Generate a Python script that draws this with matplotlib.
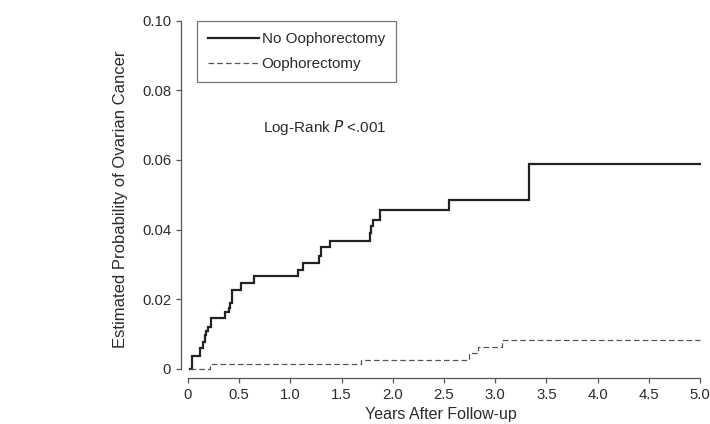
import numpy as np
import matplotlib
matplotlib.use("Agg")
import matplotlib.pyplot as plt

plt.rcParams["font.family"] = ["Liberation Sans", "DejaVu Sans"]

# Kaplan-Meier style cumulative incidence
no_ooph_t = [0.02, 0.04, 0.12, 0.15, 0.17, 0.18, 0.20, 0.23, 0.36, 0.40, 0.41, 0.43,
             0.52, 0.65, 1.08, 1.12, 1.28, 1.30, 1.39, 1.78, 1.79, 1.81, 1.875,
             2.55, 3.33, 5.00]
no_ooph_p = [0.0, 0.0037, 0.0059, 0.0078, 0.0097, 0.0110, 0.0120, 0.0146, 0.0164,
             0.0175, 0.0190, 0.0226, 0.0246, 0.0266, 0.0284, 0.0305, 0.0325, 0.0349,
             0.0367, 0.0389, 0.0410, 0.0429, 0.0456, 0.0484, 0.0589, 0.0589]
ooph_t = [0.02, 0.22, 1.69, 2.74, 2.83, 3.07, 5.00]
ooph_p = [0.0, 0.0013, 0.0026, 0.0045, 0.0064, 0.0083, 0.0083]

xticks = [0, 0.5, 1.0, 1.5, 2.0, 2.5, 3.0, 3.5, 4.0, 4.5, 5.0]
xtick_labels = ["0", "0.5", "1.0", "1.5", "2.0", "2.5", "3.0", "3.5", "4.0", "4.5", "5.0"]
yticks = [0, 0.02, 0.04, 0.06, 0.08, 0.10]
ytick_labels = ["0", "0.02", "0.04", "0.06", "0.08", "0.10"]

ink = "#2b2b2b"
axis_col = "#555555"

W, H = 710, 424
fig = plt.figure(figsize=(W / 100, H / 100), dpi=100)
ax = fig.add_axes([180.7 / W, (H - 378) / H, (701 - 180.7) / W, (378 - 20.7) / H])

ax.step(no_ooph_t, no_ooph_p, where="post", color="#222222", lw=1.6,
        solid_joinstyle="miter", label="No Oophorectomy")
ax.step(ooph_t, ooph_p, where="post", color="#555555", lw=0.9,
        linestyle=(0, (4.5, 2.5)), label="Oophorectomy")

ax.set_xlim(-0.07, 5.01)
ax.set_ylim(-0.0026, 0.1)
ax.spines["left"].set_bounds(0, 0.1)
ax.spines["bottom"].set_bounds(0, 5.0)
for s in ("top", "right"):
    ax.spines[s].set_visible(False)
for s in ("left", "bottom"):
    ax.spines[s].set_color(axis_col)
    ax.spines[s].set_linewidth(0.9)

ax.set_xticks(xticks)
ax.set_xticklabels(xtick_labels)
ax.set_yticks(yticks)
ax.set_yticklabels(ytick_labels)
ax.tick_params(direction="out", length=3.4, width=0.9, color=axis_col,
               labelcolor=ink, labelsize=10.7, pad=3.5)

ax.set_xlabel("Years After Follow-up", fontsize=11.5, color=ink, labelpad=4)
ax.set_ylabel("Estimated Probability of Ovarian Cancer", fontsize=12, color=ink, labelpad=10)

ax.text(0.73, 0.0693, "Log-Rank $\\it{P}$ <.001", fontsize=11, color=ink,
        ha="left", va="center")

leg = ax.legend(loc="upper left", bbox_to_anchor=((196.7 - 180.7) / (701 - 180.7), 1.0),
                fontsize=11, frameon=True, fancybox=False, handlelength=3.3,
                handletextpad=0.2, borderpad=0.75, labelspacing=0.7, borderaxespad=0)
leg.get_frame().set_edgecolor(axis_col)
leg.get_frame().set_linewidth(0.9)
for t in leg.get_texts():
    t.set_color(ink)

fig.savefig("out.png", dpi=100)
